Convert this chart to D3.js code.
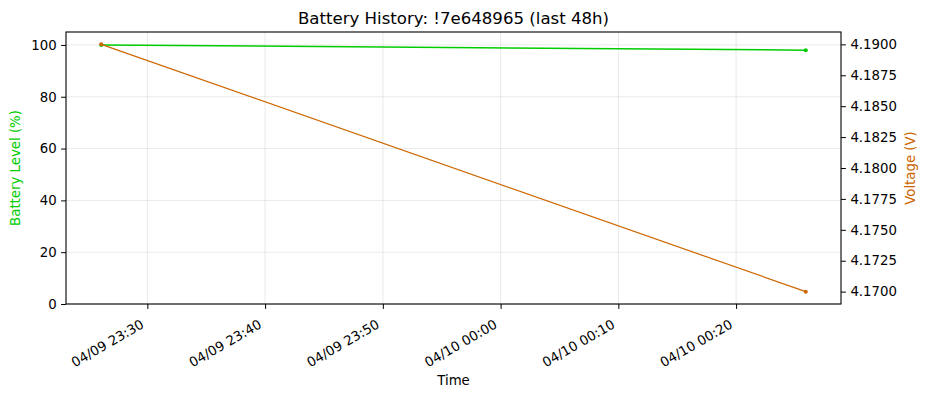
<!DOCTYPE html>
<html>
<head>
<meta charset="utf-8">
<script src="https://cdn.jsdelivr.net/npm/d3@7"></script>
<style>
  body { margin: 0; background: #fff; }
  svg, svg text { font-family: "DejaVu Sans", sans-serif; }
  .gridline { stroke: #b0b0b0; stroke-opacity: 0.35; stroke-width: 0.8; }
  .tick text { font-size: 13.3px; fill: #000; }
</style>
</head>
<body>
<svg id="chart"></svg>
<script>
// data
var times = ["2025-04-09 23:26:05", "2025-04-10 00:25:55"];
var battery = [100, 98];
var voltage = [4.19, 4.17];
var voltTicks = [4.17, 4.1725, 4.175, 4.1775, 4.18, 4.1825, 4.185, 4.1875, 4.19];
var battTicks = [0, 20, 40, 60, 80, 100];

var parseTime = d3.timeParse("%Y-%m-%d %H:%M:%S");
var fmt = d3.timeFormat("%m/%d %H:%M");
var greenCol = "#00cc00";
var orangeCol = "#cc6600";

var canvas_width = 928;
var canvas_height = 397;
var plotLeft = 66, plotRight = 841, plotTop = 32, plotBottom = 304;

var dates = times.map(parseTime);
var span = dates[1] - dates[0];

var xScale = d3
  .scaleTime()
  .domain([new Date(+dates[0] - span * 0.05), new Date(+dates[1] + span * 0.05)])
  .range([plotLeft, plotRight]);

var yScale = d3.scaleLinear().domain([0, 105]).range([plotBottom, plotTop]);
var vScale = d3.scaleLinear().domain([4.169, 4.191]).range([plotBottom, plotTop]);

var svg = d3
  .select("#chart")
  .attr("width", canvas_width)
  .attr("height", canvas_height);

var xTicks = xScale.ticks(d3.timeMinute.every(10));

///////// GRID /////////////
svg.append("g")
  .selectAll("line")
  .data(xTicks)
  .enter()
  .append("line")
  .attr("class", "gridline")
  .attr("x1", (d) => xScale(d))
  .attr("x2", (d) => xScale(d))
  .attr("y1", plotTop)
  .attr("y2", plotBottom);

svg.append("g")
  .selectAll("line")
  .data(battTicks)
  .enter()
  .append("line")
  .attr("class", "gridline")
  .attr("x1", plotLeft)
  .attr("x2", plotRight)
  .attr("y1", (d) => yScale(d))
  .attr("y2", (d) => yScale(d));

//////// LINES //////////////
var batteryData = dates.map((d, i) => [d, battery[i]]);
var voltageData = dates.map((d, i) => [d, voltage[i]]);

svg.append("path")
  .datum(batteryData)
  .attr("fill", "none")
  .attr("stroke", greenCol)
  .attr("stroke-width", 1.5)
  .attr("d", d3.line().x((d) => xScale(d[0])).y((d) => yScale(d[1])));

svg.selectAll(".bdot")
  .data(batteryData)
  .enter()
  .append("circle")
  .attr("cx", (d) => xScale(d[0]))
  .attr("cy", (d) => yScale(d[1]))
  .attr("r", 2)
  .attr("fill", greenCol);

svg.append("path")
  .datum(voltageData)
  .attr("fill", "none")
  .attr("stroke", orangeCol)
  .attr("stroke-width", 1.2)
  .attr("d", d3.line().x((d) => xScale(d[0])).y((d) => vScale(d[1])));

svg.selectAll(".vdot")
  .data(voltageData)
  .enter()
  .append("circle")
  .attr("cx", (d) => xScale(d[0]))
  .attr("cy", (d) => vScale(d[1]))
  .attr("r", 2)
  .attr("fill", orangeCol);

//////// AXES //////////////
var xAxis = svg.append("g")
  .attr("transform", "translate(0," + plotBottom + ")")
  .call(d3.axisBottom(xScale).tickValues(xTicks).tickFormat(fmt).tickSize(4.9).tickSizeOuter(0));
xAxis.select(".domain").remove();
xAxis.selectAll("text")
  .attr("y", 0)
  .attr("dy", 0)
  .attr("transform", "translate(-3,23) rotate(-30)")
  .style("text-anchor", "end");

var yAxis = svg.append("g")
  .attr("transform", "translate(" + plotLeft + ",0)")
  .call(d3.axisLeft(yScale).tickValues(battTicks).tickSize(4.9).tickPadding(4.5));
yAxis.select(".domain").remove();

var vAxis = svg.append("g")
  .attr("transform", "translate(" + plotRight + ",0)")
  .call(d3.axisRight(vScale).tickValues(voltTicks).tickFormat(d3.format(".4f")).tickSize(4.9).tickPadding(4.5));
vAxis.select(".domain").remove();

svg.selectAll("g").attr("font-family", null).attr("font-size", null);
svg.selectAll(".tick line").attr("stroke", "#000").attr("stroke-width", 1);

// frame
svg.append("rect")
  .attr("x", plotLeft)
  .attr("y", plotTop)
  .attr("width", plotRight - plotLeft)
  .attr("height", plotBottom - plotTop)
  .attr("fill", "none")
  .attr("stroke", "#000")
  .attr("stroke-width", 1.1);

//////// LABELS //////////////
svg.append("text")
  .attr("x", (plotLeft + plotRight) / 2)
  .attr("y", 24)
  .attr("text-anchor", "middle")
  .style("font-size", "16.6px")
  .text("Battery History: !7e648965 (last 48h)");

svg.append("text")
  .attr("x", (plotLeft + plotRight) / 2)
  .attr("y", 385)
  .attr("text-anchor", "middle")
  .style("font-size", "13.3px")
  .text("Time");

svg.append("text")
  .attr("transform", "translate(20," + (plotTop + plotBottom) / 2 + ") rotate(-90)")
  .attr("text-anchor", "middle")
  .style("font-size", "13.3px")
  .style("fill", greenCol)
  .text("Battery Level (%)");

svg.append("text")
  .attr("transform", "translate(915," + (plotTop + plotBottom) / 2 + ") rotate(-90)")
  .attr("text-anchor", "middle")
  .style("font-size", "13.3px")
  .style("fill", orangeCol)
  .text("Voltage (V)");
</script>
</body>
</html>
